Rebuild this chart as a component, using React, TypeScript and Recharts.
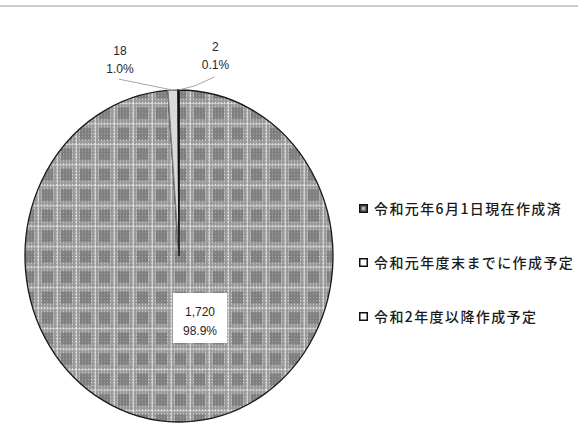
import React from "react";
import { Cell, Legend, Pie, PieChart } from "recharts";

// 作成状況の内訳
const categories = ["令和元年6月1日現在作成済", "令和元年度末までに作成予定", "令和2年度以降作成予定"];
const counts = [1720, 18, 2];
const fills = ["url(#plaid)", "#d9d9d9", "#111111"];
const strokes = ["#1a1a1a", "#7a7a7a", "#111111"];

const data = categories.map((name, i) => ({ name, value: counts[i] }));
const total = counts.reduce((a, b) => a + b, 0);

const W = 578;
const H = 428;
const CX = 179;
const CY = 256;
const R = 154;
const KY = 1.078; // the pie is drawn slightly taller than wide

const RAD = Math.PI / 180;
const pct = (v: number) => ((v / total) * 100).toFixed(1) + "%";

const labelText = { fontFamily: "'Liberation Sans', Arial, sans-serif", fontSize: 12, fill: "#262626" };

function renderLabel(props: any) {
  const { cx, cy, midAngle, outerRadius, index, value } = props;
  const px = cx + outerRadius * Math.cos(-midAngle * RAD);
  const py = cy + outerRadius * KY * Math.sin(-midAngle * RAD);
  const num = Number(value).toLocaleString("en-US");

  if (index === 0) {
    const bx = cx + 21;
    const by = cy + 37;
    return (
      <g>
        <rect x={bx - 27} y={by} width={54} height={50} fill="#fff" />
        <text x={bx} y={by + 20} textAnchor="middle" dominantBaseline="middle" {...labelText}>{num}</text>
        <text x={bx} y={by + 39} textAnchor="middle" dominantBaseline="middle" {...labelText}>{pct(value)}</text>
      </g>
    );
  }
  if (index === 1) {
    return (
      <g>
        <polyline points={`${px - 54},${py - 11} ${px},${py}`} fill="none" stroke="#a6a6a6" strokeWidth={1} />
        <text x={px - 53} y={py - 38} textAnchor="middle" dominantBaseline="middle" {...labelText}>{num}</text>
        <text x={px - 53} y={py - 20} textAnchor="middle" dominantBaseline="middle" {...labelText}>{pct(value)}</text>
      </g>
    );
  }
  return (
    <g>
      <polyline points={`${px + 36},${py - 13} ${px + 16},${py - 4} ${px},${py}`} fill="none" stroke="#a6a6a6" strokeWidth={1} />
      <text x={px + 37} y={py - 42} textAnchor="middle" dominantBaseline="middle" {...labelText}>{num}</text>
      <text x={px + 37} y={py - 24} textAnchor="middle" dominantBaseline="middle" {...labelText}>{pct(value)}</text>
    </g>
  );
}

function LegendIcon({ index }: { index: number }) {
  return (
    <svg width={9} height={9} style={{ flex: "none" }}>
      {index === 0 ? (
        <>
          <rect x={0.75} y={0.75} width={7.5} height={7.5} fill="#6a6a6a" stroke="#111" strokeWidth={1.5} />
          <rect x={3} y={3} width={3} height={3} fill="#b5b5b5" />
        </>
      ) : (
        <rect x={0.75} y={0.75} width={7.5} height={7.5} fill="#fff" stroke="#111" strokeWidth={1.5} />
      )}
    </svg>
  );
}

// legend rows follow the category order, not the library's sorted payload
function renderLegend() {
  return (
    <div>
      {categories.map((name, i) => (
        <div
          key={name}
          style={{
            display: "flex",
            alignItems: "center",
            height: 54,
            gap: 6,
            fontFamily: "'Noto Sans CJK JP', sans-serif",
            fontSize: 14,
            fontWeight: 500,
            letterSpacing: 1.4,
            color: "#1a1a1a",
            whiteSpace: "nowrap",
          }}
        >
          <LegendIcon index={i} />
          <span>{name}</span>
        </div>
      ))}
    </div>
  );
}

const css = `
.oval-pie path.recharts-sector {
  transform: scale(1, ${KY});
  transform-origin: ${CX}px ${CY}px;
}
`;

export default function App() {
  return (
    <div style={{ position: "absolute", left: 0, top: 0, width: W, height: H, background: "#fff" }}>
      <style>{css}</style>
      <div style={{ position: "absolute", left: 0, top: 5, width: W, height: 2, background: "#cdcdcd" }} />
      <PieChart width={W} height={H} margin={{ top: 0, right: 0, bottom: 0, left: 0 }}>
        <defs>
          <pattern id="dots" width={3} height={3} patternUnits="userSpaceOnUse">
            <rect width={3} height={3} fill="#9a9a9a" />
            <rect width={1} height={1} fill="#e6e6e6" />
          </pattern>
          <pattern id="plaid" width={19} height={19} patternUnits="userSpaceOnUse">
            <rect width={19} height={19} fill="url(#dots)" />
            <rect x={4} y={4} width={11} height={11} fill="#5e5e5e" opacity={0.45} />
            <rect x={0} y={0} width={19} height={1} fill="#e6e6e6" opacity={0.6} />
            <rect x={0} y={0} width={1} height={19} fill="#e6e6e6" opacity={0.6} />
          </pattern>
        </defs>
        <Pie
          className="oval-pie"
          data={data}
          dataKey="value"
          nameKey="name"
          cx={CX}
          cy={CY}
          outerRadius={R}
          startAngle={90}
          endAngle={-270}
          label={renderLabel}
          labelLine={false}
          isAnimationActive={false}
        >
          {data.map((d, i) => (
            <Cell key={d.name} fill={fills[i]} stroke={strokes[i]} strokeWidth={1.3} />
          ))}
        </Pie>
        <Legend
          layout="vertical"
          align="right"
          verticalAlign="middle"
          content={renderLegend}
          wrapperStyle={{ left: 359, top: 181, width: 219 }}
        />
      </PieChart>
    </div>
  );
}
